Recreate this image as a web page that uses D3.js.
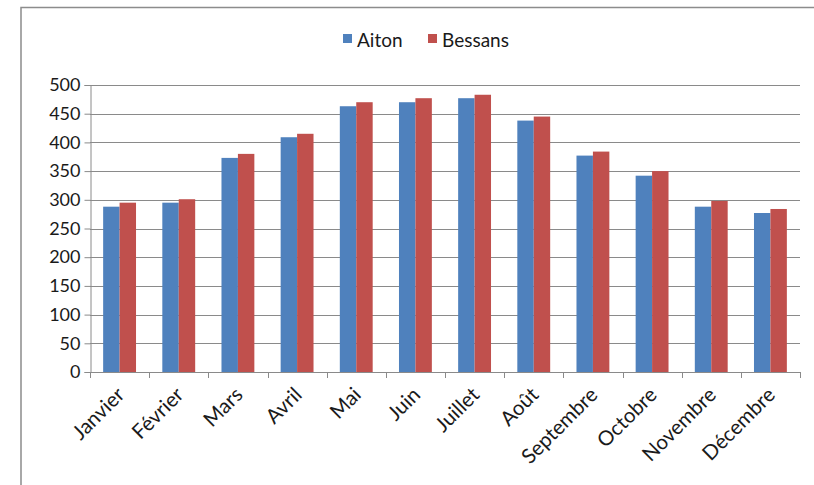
<!DOCTYPE html>
<html>
<head>
<meta charset="utf-8">
<script src="https://cdn.jsdelivr.net/npm/d3@7"></script>
<style>
  body { margin: 0; background: #fff; }
  text { font-family: Lato, "Open Sans", sans-serif; fill: #1a1a1a; }
</style>
</head>
<body>
<svg id="chart" width="814" height="485"></svg>
<script>
const months = ["Janvier","Février","Mars","Avril","Mai","Juin","Juillet","Août","Septembre","Octobre","Novembre","Décembre"];
const seriesNames = ["Aiton","Bessans"];
const aiton   = [288, 295, 373, 409, 463, 470, 477, 438, 377, 342, 288, 277];
const bessans = [295, 301, 380, 415, 470, 477, 483, 445, 384, 350, 298, 284];
const yTicks = [0, 50, 100, 150, 200, 250, 300, 350, 400, 450, 500];
const colors = ["#4F81BD", "#C0504D"];

const svg = d3.select("#chart");
const W = 814, H = 485;
const plot = { left: 90, right: 800, top: 85, bottom: 372 };

// outer border (top and left visible)
svg.append("path")
  .attr("d", `M21,${H + 2} L21,7.5 L${W + 2},7.5`)
  .attr("fill", "none").attr("stroke", "#8c8c8c").attr("stroke-width", 1.5);

const x = d3.scaleBand().domain(months).range([plot.left, plot.right]).paddingInner(0).paddingOuter(0);
const groupW = x.bandwidth() / 1.8;
const x1 = d3.scaleBand().domain(seriesNames).range([0, groupW]).padding(0);
const y = d3.scaleLinear().domain([0, 500]).range([plot.bottom, plot.top]);

// gridlines
svg.append("g").selectAll("line").data(yTicks.filter(d => d > 0)).join("line")
  .attr("x1", plot.left).attr("x2", plot.right)
  .attr("y1", d => Math.round(y(d)) + 0.5).attr("y2", d => Math.round(y(d)) + 0.5)
  .attr("stroke", "#8a8a8a").attr("stroke-width", 1);

// bars
const data = months.map((m, i) => ({ m, vals: [aiton[i], bessans[i]] }));
const groups = svg.append("g").selectAll("g").data(data).join("g")
  .attr("transform", d => `translate(${x(d.m) + (x.bandwidth() - groupW) / 2},0)`);
groups.selectAll("rect").data(d => d.vals.map((v, k) => ({ k, v }))).join("rect")
  .attr("x", d => x1(seriesNames[d.k]))
  .attr("width", x1.bandwidth())
  .attr("y", d => y(d.v))
  .attr("height", d => y(0) - y(d.v))
  .attr("fill", d => colors[d.k]);

// y axis
const yAxis = d3.axisLeft(y).tickValues(yTicks).tickSize(6).tickPadding(4);
const gy = svg.append("g").attr("transform", `translate(${plot.left + 0.5},0)`).call(yAxis);
gy.select(".domain").attr("stroke", "#8a8a8a");
gy.selectAll(".tick line").attr("stroke", "#8a8a8a");
gy.selectAll(".tick text").style("font-size", "18px").style("font-family", "Lato, sans-serif").attr("fill", "#1a1a1a");

// x axis
const boundaries = months.map(m => x(m)).concat([plot.right]);
const gx = svg.append("g");
gx.append("line").attr("x1", plot.left).attr("x2", plot.right)
  .attr("y1", plot.bottom + 0.5).attr("y2", plot.bottom + 0.5).attr("stroke", "#8a8a8a");
gx.selectAll("line.tk").data(boundaries).join("line").attr("class", "tk")
  .attr("x1", d => Math.round(d) + 0.5).attr("x2", d => Math.round(d) + 0.5)
  .attr("y1", plot.bottom).attr("y2", plot.bottom + 6).attr("stroke", "#8a8a8a");
gx.selectAll("text").data(months).join("text")
  .attr("transform", d => `translate(${x(d) + x.bandwidth() / 2 + 1},${plot.bottom + 19}) rotate(-45)`)
  .attr("text-anchor", "end")
  .attr("dy", "0.35em")
  .style("font-size", "20.5px")
  .text(d => d);

// legend
const legend = svg.append("g");
const legendItems = [{ name: "Aiton", x: 343 }, { name: "Bessans", x: 428 }];
legendItems.forEach((it, i) => {
  legend.append("rect").attr("x", it.x).attr("y", 34).attr("width", 9).attr("height", 9).attr("fill", colors[i]);
  legend.append("text").attr("x", it.x + 14).attr("y", 47).style("font-size", "19px").text(it.name);
});
</script>
</body>
</html>
